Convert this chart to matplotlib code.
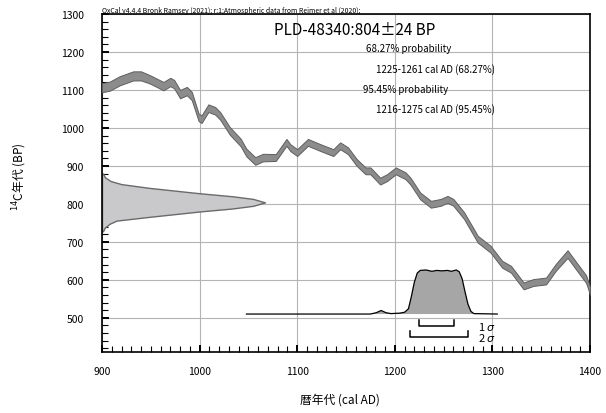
import matplotlib
matplotlib.use('Agg')
import matplotlib.pyplot as plt
import numpy as np
from matplotlib.ticker import MultipleLocator

plt.rcParams['font.family'] = ['Noto Sans CJK JP', 'DejaVu Sans']

# calibration curve (IntCal20): cal AD, 14C BP, half width
curve_years = [900, 908, 918, 932, 940, 949, 963, 970, 974, 980, 987, 992, 999, 1002,
               1009, 1016, 1021, 1031, 1042, 1048, 1057, 1065, 1078, 1083, 1089, 1093,
               1100, 1111, 1124, 1137, 1144, 1152, 1161, 1170, 1175, 1185, 1192, 1201,
               1211, 1216, 1226, 1237, 1247, 1254, 1260, 1271, 1285, 1298, 1310, 1319,
               1332, 1342, 1355, 1365, 1377, 1387, 1396, 1400]
curve_bp = [1106, 1110, 1124, 1137, 1137, 1128, 1110, 1121, 1115, 1089, 1097, 1084, 1028, 1023,
            1052, 1045, 1032, 992, 962, 935, 913, 922, 922, 940, 962, 948,
            935, 962, 948, 935, 953, 940, 909, 887, 887, 860, 869, 887,
            874, 860, 821, 799, 804, 812, 804, 769, 707, 681, 641, 628,
            584, 593, 597, 633, 668, 633, 602, 571]
curve_err = [12, 12, 12, 12, 12, 11, 11, 11, 11, 11, 11, 11, 10, 10,
             10, 10, 10, 10, 10, 10, 10, 10, 9, 9, 9, 9,
             9, 9, 9, 9, 9, 9, 9, 9, 9, 9, 9, 9,
             9, 9, 9, 9, 9, 9, 9, 9, 9, 9, 9, 9,
             9, 9, 9, 9, 10, 10, 10, 10]

# measured 14C date 804 +/- 24 BP (profile on y axis, width in years)
date_bp = [728, 738, 748, 756, 766, 780, 788, 795, 804, 813, 820, 828, 842, 852, 860, 870, 880]
date_w = [1, 3, 8, 15, 49, 100, 134, 155, 167, 155, 134, 100, 49, 20, 9, 3, 1]

# calibrated probability (relative)
cal_years = [1048, 1175, 1181, 1186, 1191, 1196, 1205, 1210, 1214, 1217, 1220, 1223, 1226,
             1232, 1238, 1243, 1248, 1254, 1258, 1263, 1266, 1269, 1272, 1275, 1278,
             1281, 1305]
cal_prob = [0, 0, 0.03, 0.08, 0.03, 0.01, 0.02, 0.04, 0.12, 0.4, 0.72, 0.93, 0.99,
            1.0, 0.97, 0.99, 0.98, 0.99, 0.97, 1.0, 0.96, 0.8, 0.5, 0.22, 0.06,
            0.01, 0]
cal_base = 510
cal_height = 116

sigma1 = (1225, 1261)
sigma2 = (1216, 1275)

fig = plt.figure(figsize=(6.06, 4.14), dpi=100)
ax = fig.add_axes([0.1683, 0.1473, 0.8053, 0.8165])

cy = np.array(curve_bp)
ce = np.array(curve_err)
ax.fill_between(curve_years, cy - ce, cy + ce, facecolor='#8c8c8c',
                edgecolor='#5e5e5e', linewidth=0.7, zorder=3)

# date profile on the y axis
ax.fill_betweenx(date_bp, 900, 900 + np.array(date_w), facecolor='#c9c9cc',
                 edgecolor='#6a6a6a', linewidth=1.0, zorder=2)

# calibrated distribution
cp = cal_base + np.array(cal_prob) * cal_height
ax.fill_between(cal_years, cal_base, cp, facecolor='#a6a6a6', edgecolor='none', zorder=4)
ax.plot(cal_years, cp, color='black', linewidth=0.9, zorder=5)

# sigma brackets
for (a, b), yl, lab in [(sigma1, 479, '1 $\\sigma$'), (sigma2, 450, '2 $\\sigma$')]:
    ax.plot([a, a, b, b], [yl + 16, yl, yl, yl + 16], color='black', linewidth=1.1, zorder=5)
    ax.text(1285, yl, lab, fontsize=8, va='center', ha='left', zorder=6)

ax.set_xlim(900, 1400)
ax.set_ylim(410, 1300)
ax.set_xticks(range(900, 1401, 100))
ax.set_yticks(range(500, 1301, 100))
ax.xaxis.set_minor_locator(MultipleLocator(10))
ax.yaxis.set_minor_locator(MultipleLocator(20))
ax.tick_params(which='both', direction='in', top=False, right=False, labelsize=7.5)
ax.tick_params(which='major', length=5, width=1.4)
ax.tick_params(which='minor', length=4, width=0.8)
ax.tick_params(axis='y', which='major', pad=13)
ax.tick_params(axis='x', which='major', pad=10)
ax.grid(True, which='major', color='#b4b4b4', linewidth=0.8, zorder=1)
for s in ax.spines.values():
    s.set_linewidth(1.2)

# small marks at grid intersections
gx, gy = np.meshgrid(range(1000, 1301, 100), range(600, 1201, 100))
ax.plot(gx.ravel(), gy.ravel(), '+', color='black', markersize=3, markeredgewidth=0.7, zorder=1.5)

ax.text(0.352, 0.955, 'PLD-48340:804±24 BP', transform=ax.transAxes, fontsize=11,
        va='center', ha='left')
ax.text(0.541, 0.9, '68.27% probability', transform=ax.transAxes, fontsize=7,
        va='center', ha='left')
ax.text(0.561, 0.84, '1225-1261 cal AD (68.27%)', transform=ax.transAxes, fontsize=7,
        va='center', ha='left')
ax.text(0.535, 0.777, '95.45% probability', transform=ax.transAxes, fontsize=7,
        va='center', ha='left')
ax.text(0.561, 0.72, '1216-1275 cal AD (95.45%)', transform=ax.transAxes, fontsize=7,
        va='center', ha='left')

fig.text(102 / 606, 1 - 11 / 414,
         'OxCal v4.4.4 Bronk Ramsey (2021); r:1;Atmospheric data from Reimer et al (2020);',
         fontsize=4.95, va='center', ha='left')

fig.text(340 / 606, 1 - 400 / 414, '暦年代 (cal AD)', fontsize=8.5, ha='center', va='center')
fig.text(20 / 606, 1 - 177 / 414, '$^{14}$C年代 (BP)', fontsize=8.5, ha='center', va='center',
         rotation=90)

fig.savefig('out.png', dpi=100)
